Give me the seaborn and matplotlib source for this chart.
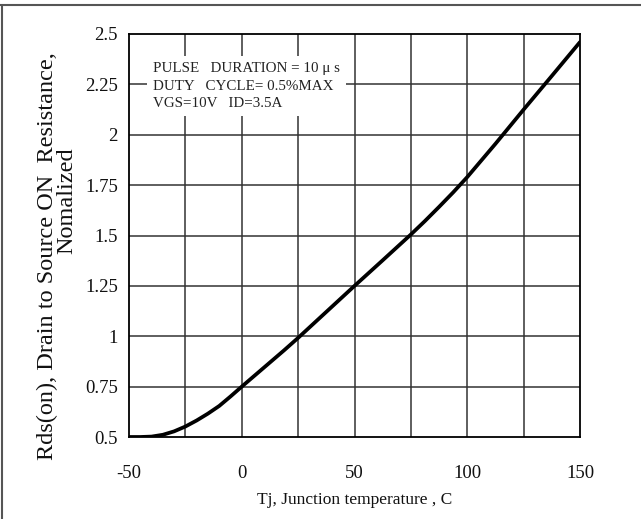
import matplotlib
matplotlib.use("Agg")
import matplotlib.pyplot as plt
import seaborn as sns
import pandas as pd
from matplotlib.lines import Line2D

# Data
tj = [-50, -45, -40, -35, -30, -25, -20, -15, -10, -5, 0, 6.25, 12.5, 18.75, 25, 37.5,
      50, 62.5, 75, 81.25, 87.5, 93.75, 100, 112.5, 125, 137.5, 150]
rds = [0.500, 0.500, 0.502, 0.511, 0.528, 0.552, 0.582, 0.616, 0.654, 0.701,
       0.750, 0.810, 0.870, 0.930, 0.992, 1.121, 1.250, 1.377, 1.505, 1.572,
       1.642, 1.714, 1.790, 1.955, 2.125, 2.292, 2.460]
x_ticks = [-50, 0, 50, 100, 150]
x_tick_labels = ["-50", "0", "50", "100", "150"]
y_ticks = [0.5, 0.75, 1, 1.25, 1.5, 1.75, 2, 2.25, 2.5]
y_tick_labels = ["0.5", "0.75", "1", "1.25", "1.5", "1.75", "2", "2.25", "2.5"]
x_grid = [-25, 0, 25, 50, 75, 100, 125]
note_lines = ["PULSE   DURATION = 10 \u03bc s", "DUTY   CYCLE= 0.5%MAX", "VGS=10V   ID=3.5A"]

sns.set_style("white")
plt.rcParams["font.family"] = ["Liberation Serif", "DejaVu Serif"]

df = pd.DataFrame({"Tj": tj, "Rds": rds})

fig = plt.figure(figsize=(6.41, 5.19), dpi=100)
ax = fig.add_axes([129 / 641, (519 - 437) / 519, 451 / 641, 403 / 519])

# grid
for gx in x_grid:
    ax.axvline(gx, color="#333333", lw=1.1, zorder=1)
for gy in y_ticks[1:-1]:
    ax.axhline(gy, color="#333333", lw=1.1, zorder=1)

# note box (white background hides grid)
ax.text(0.053, 0.931, "\n".join(note_lines), transform=ax.transAxes,
        ha="left", va="top", fontsize=10.8, linespacing=1.48, color="#222222",
        bbox=dict(boxstyle="square,pad=0.4", facecolor="white", edgecolor="none"),
        zorder=3)

sns.lineplot(data=df, x="Tj", y="Rds", ax=ax, color="black", lw=2.7, zorder=4)

ax.set_xlim(-50, 150)
ax.set_ylim(0.5, 2.5)
ax.set_xticks(x_ticks)
ax.set_xticklabels(x_tick_labels)
ax.set_yticks(y_ticks)
ax.set_yticklabels(y_tick_labels)
ax.tick_params(axis="both", length=0, labelsize=13.5, colors="#111111")
ax.tick_params(axis="x", pad=20)
ax.tick_params(axis="y", pad=8)
for s in ax.spines.values():
    s.set_color("black")
    s.set_linewidth(1.3)
    s.set_visible(True)

ax.set_xlabel("Tj, Junction temperature , C", fontsize=12.5, labelpad=7.5, color="#111111")
ax.set_ylabel("")
fig.text(47 / 641, 1 - 256 / 519, "Rds(on), Drain to Source ON  Resistance,",
         rotation=90, ha="center", va="center", fontsize=17.5, color="#111111")
fig.text(67 / 641, 1 - 201 / 519, "Nomalized",
         rotation=90, ha="center", va="center", fontsize=17.5, color="#111111")

# outer frame (top and left visible)
fig.add_artist(Line2D([0, 1], [1 - 5 / 519, 1 - 5 / 519], transform=fig.transFigure,
                      color="#555555", lw=1.5))
fig.add_artist(Line2D([2 / 641, 2 / 641], [0, 1 - 5 / 519], transform=fig.transFigure,
                      color="#555555", lw=1.5))

fig.savefig("out.png", dpi=100)
